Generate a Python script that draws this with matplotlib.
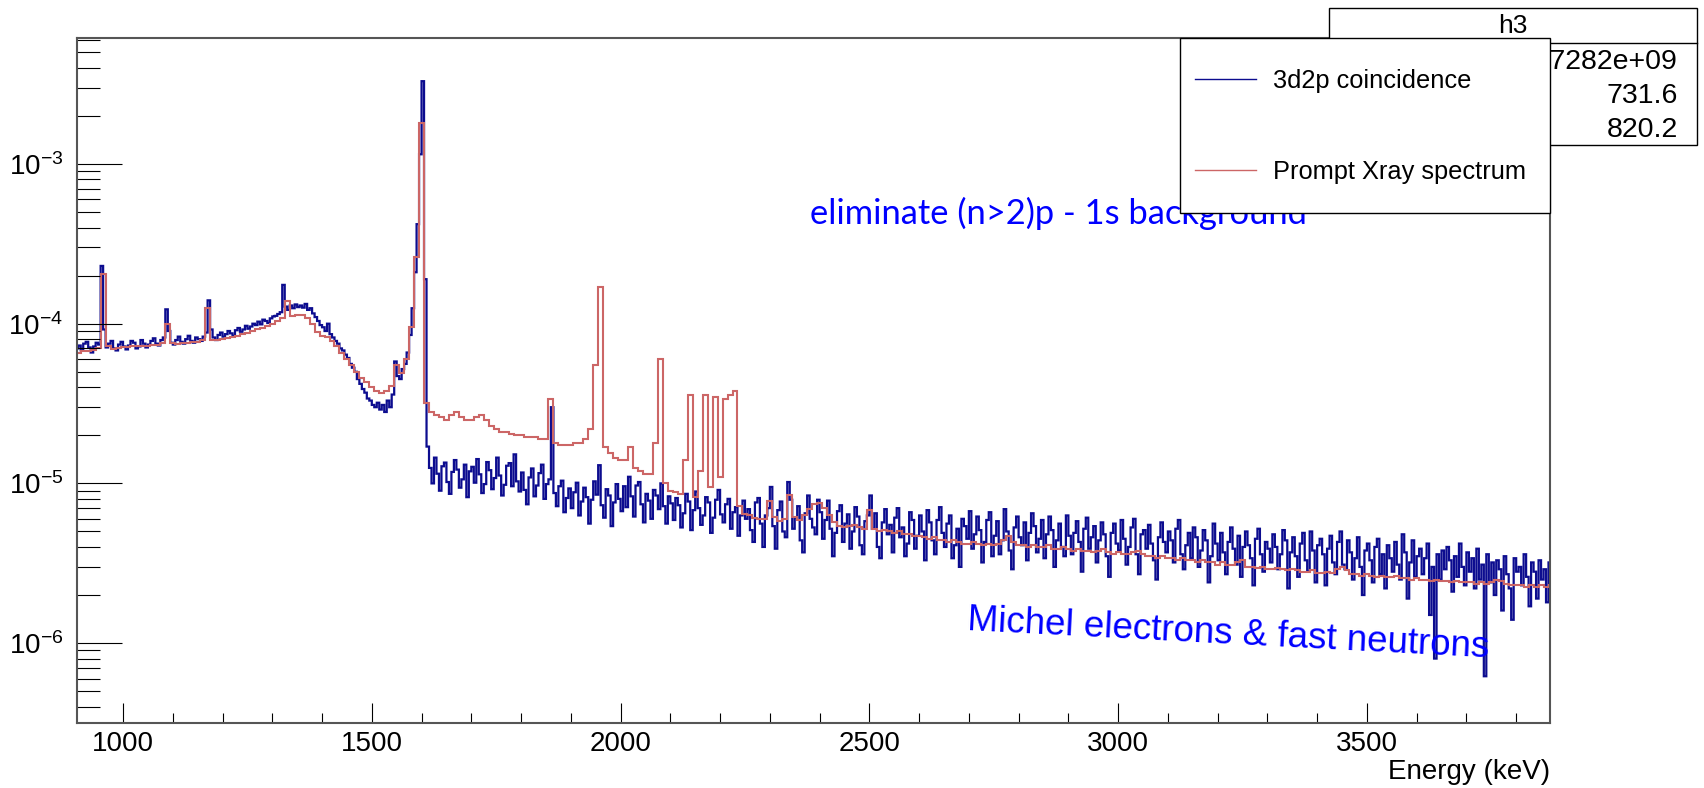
import numpy as np
import matplotlib as mpl
import matplotlib.pyplot as plt
from matplotlib.lines import Line2D
from matplotlib.patches import Rectangle
from matplotlib.ticker import MultipleLocator, LogLocator

mpl.rcParams['font.family'] = ['Liberation Sans', 'DejaVu Sans']
mpl.rcParams['mathtext.fontset'] = 'custom'
mpl.rcParams['mathtext.rm'] = 'Liberation Sans'
mpl.rcParams['mathtext.it'] = 'Liberation Sans:italic'
mpl.rcParams['mathtext.bf'] = 'Liberation Sans:bold'

# histogram binning in keV
e_min, e_max = 905, 3875
coinc_bin = 5
prompt_bin = 10

# 3d2p coincidence spectrum, one value per 5 keV bin, in units of 1e-6
coinc = [
    70, 73, 68, 75, 77, 71, 66, 72, 76, 74,            # 905
    230, 92, 71, 75, 78, 70, 68, 74, 77, 72,
    69, 73, 78, 76, 70, 72, 79, 75, 71, 74,            # 1005
    78, 81, 75, 73, 79, 82, 123, 90, 76, 74,
    79, 83, 77, 75, 80, 84, 78, 76, 82, 80,            # 1105
    78, 83, 88, 140, 92, 82, 79, 85, 88, 83,
    86, 90, 87, 84, 91, 94, 89, 92, 97, 93,            # 1205
    96, 100, 98, 103, 99, 106, 104, 101, 108, 111,
    112, 115, 118, 175, 128, 122, 130, 125, 132, 127,  # 1305
    130, 126, 133, 122, 125, 116, 110, 104, 98, 95,
    90, 100, 86, 82, 78, 75, 70, 68, 64, 61,           # 1405
    56, 53, 50, 45, 42, 39, 37, 34, 33, 31,
    30, 32, 29, 31, 28, 33, 30, 36, 58, 47,            # 1505
    45, 52, 56, 66, 85, 125, 210, 420, 1150, 3300,
    190, 17, 12.5, 10, 14.5, 11.5, 9, 12.8, 13.5, 10.2,       # 1605
    8.6, 11.8, 14, 12.2, 9.4, 10.6, 13.1, 8.2, 11.9, 12.7,
    10.1, 14.2, 11.4, 8.7, 9.9, 13.6, 12.1, 9.2, 10.8, 14.5,  # 1705
    11.2, 8.4, 9.8, 12.9, 13.4, 9.6, 15.2, 10.3, 8.9, 11.7,
    9.1, 7.4, 10.9, 12.4, 8.3, 9.7, 11.6, 13.1, 8.0, 9.9,     # 1805
    10.6, 30, 8.7, 7.2, 9.6, 10.4, 6.6, 8.1, 9.3, 7.0,
    8.8, 10.1, 6.3, 7.7, 9.4, 8.2, 5.6, 7.9, 10.3, 8.5,       # 1905
    13, 7.3, 6.1, 9.2, 8.4, 5.4, 7.6, 9.9, 8.0, 6.7,
    9.6, 7.1, 11, 8.3, 6.2, 9.7, 10.2, 7.4, 5.7, 8.6,         # 2005
    7.8, 6.0, 9.1, 8.4, 6.9, 10, 7.2, 5.6, 8.3, 7.5,
    5.9, 8.1, 7.3, 5.3, 6.5, 8.6, 7.7, 5.1, 6.8, 8.9,         # 2105
    7.0, 5.5, 6.3, 8.2, 7.6, 4.9, 6.1, 7.9, 9.1, 6.4,
    5.7, 7.4, 8.0, 5.2, 6.6, 7.1, 4.7, 6.3, 7.8, 6.0,         # 2205
    6.9, 5.1, 4.3, 7.6, 8.1, 5.6, 4.0, 6.3, 7.0, 9.5,
    5.4, 3.9, 6.8, 7.7, 5.0, 4.6, 10.2, 7.9, 5.2, 6.1,        # 2305
    7.2, 4.4, 3.7, 6.5, 8.4, 6.0, 5.3, 4.8, 7.9, 6.6,
    4.5, 5.9, 7.8, 5.2, 3.5, 4.9, 6.7, 7.3, 4.3, 5.6,         # 2405
    6.4, 3.9, 5.0, 7.1, 6.2, 4.1, 3.6, 5.8, 6.3, 8.4,
    5.2, 6.5, 4.0, 3.4, 5.7, 6.9, 4.8, 5.5, 3.7, 6.1,         # 2505
    7.0, 4.6, 5.3, 3.5, 4.2, 6.6, 5.9, 3.9, 4.7, 6.3,
    5.0, 3.3, 6.8, 5.7, 4.4, 3.6, 5.9, 7.1, 4.9, 4.0,         # 2605
    5.6, 6.3, 3.4, 4.1, 5.2, 3.0, 6.0, 5.4, 4.5, 6.7,
    3.9, 4.8, 6.2, 5.1, 3.2, 4.3, 5.9, 6.6, 3.5, 4.7,         # 2705
    5.8, 3.6, 4.4, 6.9, 5.0, 3.8, 2.9, 5.3, 6.2, 4.6,
    4.1, 5.7, 3.3, 4.9, 6.5, 5.4, 3.7, 4.5, 5.9, 3.4,         # 2805
    4.8, 6.2, 5.1, 3.0, 4.4, 5.6, 4.0, 3.5, 6.3, 4.7,
    3.6, 4.9, 5.8, 4.3, 2.8, 5.2, 6.1, 3.9, 4.6, 5.4,         # 2905
    3.2, 4.4, 5.7, 4.8, 3.5, 2.6, 4.9, 5.6, 4.2, 3.8,
    5.9, 4.5, 3.1, 4.0, 5.3, 6.0, 3.6, 2.7, 4.8, 5.1,         # 3005
    3.9, 5.5, 4.2, 3.3, 2.5, 4.6, 5.7, 4.3, 3.7, 5.0,
    4.4, 3.2, 5.2, 5.9, 3.6, 2.9, 4.1, 4.9, 3.4, 5.3,         # 3105
    4.6, 3.0, 3.8, 5.1, 4.4, 2.4, 3.5, 5.6, 4.2, 3.3,
    4.9, 3.7, 2.7, 4.3, 5.3, 3.9, 3.1, 4.7, 2.6, 4.0,         # 3205
    5.0, 4.1, 3.4, 2.3, 4.5, 5.2, 3.6, 2.8, 4.3, 3.9,
    3.2, 4.8, 4.0, 2.9, 3.6, 5.1, 4.4, 2.2, 3.7, 4.6,         # 3305
    3.5, 2.6, 4.2, 4.9, 3.3, 2.8, 5.0, 3.8, 2.4, 4.1,
    4.5, 3.6, 2.3, 3.9, 4.7, 3.2, 2.7, 4.3, 5.0, 3.1,         # 3405
    2.9, 4.4, 3.7, 2.5, 3.4, 4.6, 3.0, 2.0, 3.8, 4.2,
    3.3, 2.4, 4.0, 4.5, 2.7, 3.6, 2.2, 4.1, 3.4, 2.8,         # 3505
    4.3, 3.1, 2.5, 4.8, 3.7, 1.9, 3.2, 4.4, 2.6, 3.5,
    3.9, 2.7, 3.4, 4.2, 1.5, 3.0, 0.8, 3.6, 2.5, 3.8,         # 3605
    2.9, 4.0, 3.3, 2.1, 3.5, 2.6, 4.2, 3.0, 2.3, 3.7,
    2.8, 3.4, 2.2, 3.9, 2.5, 3.1, 0.62, 3.6, 2.4, 3.2,        # 3705
    2.0, 3.3, 2.9, 1.6, 3.5, 2.7, 2.2, 1.4, 3.4, 2.8,
    3.0, 2.3, 3.6, 2.6, 1.7, 3.2, 2.8, 1.9, 3.3, 2.5,         # 3805
    2.9, 1.8, 3.2, 2.6,
]

# prompt Xray spectrum, one value per 10 keV bin, in units of 1e-6
prompt = [
    66, 67, 67, 68, 70, 205, 72, 69, 70, 71,             # 905
    71, 72, 72, 73, 73, 74, 74, 76, 100, 76,
    75, 76, 76, 77, 77, 79, 125, 79, 79, 80,             # 1105
    81, 82, 84, 86, 88, 90, 92, 94, 97, 100,
    104, 108, 138, 112, 113, 113, 108, 100, 89, 84,      # 1305
    82, 78, 72, 66, 60, 55, 50, 46, 43, 40,
    38, 37, 38, 41, 55, 49, 60, 95, 260, 1800,           # 1505
    32, 28, 27, 26, 25, 27, 28, 26, 25, 25,
    26, 27, 25, 23, 22, 21, 21, 20.5, 20, 20,            # 1705
    19.5, 19.5, 19.5, 19, 19, 34, 18, 17.5, 17.5, 17.5,
    18, 18, 19, 22, 55, 170, 17, 15.5, 14.5, 14,         # 1905
    14, 17, 12.5, 12, 11.5, 11.5, 18, 60, 10, 9,
    8.8, 8.6, 14, 36, 8.2, 12, 36, 9.5, 35, 11,          # 2105
    34, 36, 38, 7.2, 6.4, 6.3, 6.1, 6.0, 6.0, 7.8,
    6.2, 5.8, 6.0, 8.4, 6.2, 5.9, 6.3, 6.9, 7.4, 7.5,    # 2305
    7.0, 6.3, 5.7, 5.4, 5.3, 5.4, 5.5, 5.3, 5.2, 6.8,
    5.2, 5.0, 5.1, 5.0, 4.9, 5.0, 4.8, 4.8, 4.7, 4.7,    # 2505
    4.6, 4.5, 4.6, 4.4, 4.4, 4.3, 4.4, 4.3, 4.2, 4.2,
    4.3, 4.2, 4.1, 4.2, 4.1, 4.2, 4.4, 4.7, 4.3, 4.1,    # 2705
    4.1, 4.0, 4.1, 4.0, 4.0, 4.1, 3.9, 3.9, 4.0, 3.9,
    3.8, 3.9, 3.8, 3.8, 3.7, 3.8, 3.9, 3.7, 3.6, 3.7,    # 2905
    3.6, 3.6, 3.7, 3.8, 3.6, 3.5, 3.5, 3.4, 3.5, 3.4,
    3.4, 3.3, 3.4, 3.3, 3.3, 3.2, 3.3, 3.2, 3.2, 3.1,    # 3105
    3.2, 3.1, 3.1, 3.2, 3.3, 3.0, 3.0, 2.95, 3.0, 2.9,
    2.9, 2.95, 2.9, 2.85, 2.9, 2.85, 2.8, 2.8, 2.85, 2.75,  # 3305
    2.75, 2.8, 2.75, 2.9, 3.0, 2.85, 2.7, 2.7, 2.65, 2.7,
    2.65, 2.6, 2.65, 2.6, 2.6, 2.65, 2.55, 2.55, 2.5, 2.55,  # 3505
    2.5, 2.5, 2.45, 2.5, 2.45, 2.45, 2.4, 2.45, 2.4, 2.4,
    2.4, 2.35, 2.4, 2.35, 2.4, 2.5, 2.45, 2.35, 2.3, 2.3,    # 3705
    2.3, 2.25, 2.3, 2.25, 2.3, 2.25, 2.3,
]

labels = ['3d2p coincidence', 'Prompt Xray spectrum']
stats_names = ['Entries', 'Mean', 'Std Dev']
stats_values = ['1.727282e+09', '731.6', '820.2']

coinc_color = '#0c0c8f'
prompt_color = '#cc6666'

coinc_edges = np.arange(e_min, e_max + coinc_bin, coinc_bin)
prompt_edges = np.arange(e_min, e_max + prompt_bin, prompt_bin)

W, H = 1704, 788
fig = plt.figure(figsize=(W / 100, H / 100), dpi=100)
ax = fig.add_axes([77 / W, 1 - 723 / H, (1550 - 77) / W, (723 - 38) / H])

ax.stairs(np.array(coinc) * 1e-6, coinc_edges, baseline=None,
          color=coinc_color, lw=1.6)
ax.stairs(np.array(prompt) * 1e-6, prompt_edges, baseline=None,
          color=prompt_color, lw=1.5)

ax.set_yscale('log')
ax.set_xlim(907.5, 3868)
ax.set_ylim(3.16e-7, 6.15e-3)

ax.xaxis.set_major_locator(MultipleLocator(500))
ax.xaxis.set_minor_locator(MultipleLocator(100))
ax.yaxis.set_major_locator(LogLocator(base=10))
ax.yaxis.set_minor_locator(LogLocator(base=10, subs=range(2, 10)))

ax.tick_params(which='both', direction='in', top=False, right=False,
               width=0.8, color='black')
ax.tick_params(axis='x', which='major', length=14.4, labelsize=20, pad=6)
ax.tick_params(axis='x', which='minor', length=7.2)
ax.tick_params(axis='y', which='major', length=32.4, labelsize=20, pad=10)
ax.tick_params(axis='y', which='minor', length=16.5, labelleft=False)
for s in ax.spines.values():
    s.set_color('#555555')
    s.set_linewidth(1.5)

ax.set_xlabel('Energy (keV)', loc='right', fontsize=20, labelpad=1)

ax.text(0.4976, 0.729, 'eliminate (n>2)p - 1s background', transform=ax.transAxes,
        family=['Lato', 'DejaVu Sans'], fontsize=24.8, color='#0000ff',
        ha='left', va='baseline')
ax.text(0.604, 0.136, 'Michel electrons & fast neutrons', transform=ax.transAxes,
        fontsize=26.5, color='#0000ff', rotation=-3, rotation_mode='anchor',
        ha='left', va='baseline')

# stats box (drawn at figure level, partly hidden by the legend)
tf = fig.transFigure
fig.add_artist(Rectangle((1329 / W, 1 - 145 / H), (1697 - 1329) / W, (145 - 8) / H,
                         transform=tf, facecolor='white', edgecolor='black',
                         lw=1.0, zorder=2))
fig.add_artist(Line2D([1329 / W, 1697 / W], [1 - 43 / H, 1 - 43 / H],
                      transform=tf, color='black', lw=1.0, zorder=2))
fig.text(1513 / W, 1 - 26 / H, 'h3', ha='center', va='center', fontsize=19, zorder=3)
for i, (name, val) in enumerate(zip(stats_names, stats_values)):
    yy = 1 - (62 + 34 * i) / H
    fig.text(1337 / W, yy, name, ha='left', va='center', fontsize=20.5, zorder=3)
    fig.text(1678 / W, yy, val, ha='right', va='center', fontsize=20.5, zorder=3)

# legend box
fig.add_artist(Rectangle((1180 / W, 1 - 213 / H), (1550 - 1180) / W, (213 - 38) / H,
                         transform=tf, facecolor='white', edgecolor='black',
                         lw=1.0, zorder=4))
handles = [Line2D([], [], color=coinc_color, lw=1.0),
           Line2D([], [], color=prompt_color, lw=1.0)]
leg = fig.legend(handles, labels, loc='upper left',
                 bbox_to_anchor=(1195 / W, 1 - 69 / H), frameon=False,
                 fontsize=18.3, handlelength=2.4, handletextpad=0.65,
                 labelspacing=2.65, borderpad=0, borderaxespad=0)
leg.set_zorder(5)

fig.savefig('out.png', dpi=100)
